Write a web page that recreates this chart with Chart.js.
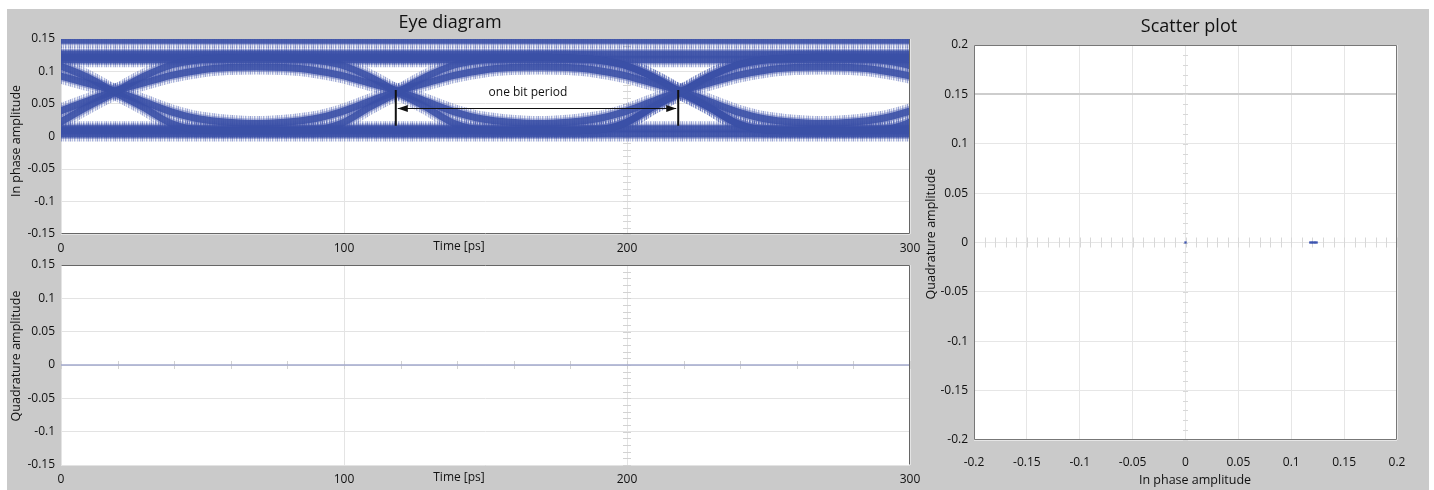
<!DOCTYPE html>
<html><head><meta charset="utf-8">
<script src="https://cdn.jsdelivr.net/npm/chart.js@4.4.0/dist/chart.umd.min.js"></script>
<style>
html,body{margin:0;padding:0;background:#fff;width:1434px;height:490px;overflow:hidden;position:relative}
#bg{position:absolute;left:7px;top:9px;width:1422px;height:481px;background:#cacaca}
.box{position:absolute}
canvas{display:block}
</style></head><body>
<div id="bg"></div>
<div class="box" style="left:7px;top:9px"><canvas id="eyeI" width="925" height="256"></canvas></div>
<div class="box" style="left:7px;top:249px"><canvas id="eyeQ" width="925" height="241"></canvas></div>
<div class="box" style="left:918px;top:9px"><canvas id="scat" width="511" height="481"></canvas></div>
<script>
// ---------------- DATA ----------------
// Eye diagram, in-phase traces, sampled every 10 ps (crossings near 19, 119, 219 ps)
const eyeTimes = [-1, 9, 19, 29, 39, 49, 59, 69, 79, 89, 99, 109, 119, 129, 139, 149, 159, 169, 179, 189, 199, 209, 219, 229, 239, 249, 259, 269, 279, 289, 299, 309];
const slowTraceA = [0.038, 0.054, 0.070, 0.082, 0.094, 0.102, 0.106, 0.107, 0.106, 0.102, 0.094, 0.082, 0.070, 0.054, 0.038, 0.027, 0.022, 0.020, 0.022, 0.027, 0.038, 0.054, 0.070, 0.082, 0.094, 0.102, 0.106, 0.107, 0.106, 0.102, 0.094, 0.082];
const slowTraceB = [0.094, 0.082, 0.070, 0.054, 0.038, 0.027, 0.022, 0.020, 0.022, 0.027, 0.038, 0.054, 0.070, 0.082, 0.094, 0.102, 0.106, 0.107, 0.106, 0.102, 0.094, 0.082, 0.070, 0.054, 0.038, 0.027, 0.022, 0.020, 0.022, 0.027, 0.038, 0.054];
const fastTraceA = [0.020, 0.045, 0.068, 0.092, 0.110, 0.118, 0.121, 0.122, 0.122, 0.122, 0.122, 0.122, 0.122, 0.122, 0.122, 0.122, 0.122, 0.122, 0.121, 0.118, 0.110, 0.092, 0.068, 0.045, 0.020, 0.010, 0.009, 0.009, 0.009, 0.009, 0.009, 0.009];
const fastTraceB = [0.110, 0.092, 0.068, 0.045, 0.020, 0.010, 0.009, 0.009, 0.009, 0.009, 0.009, 0.009, 0.009, 0.009, 0.009, 0.009, 0.009, 0.009, 0.009, 0.010, 0.020, 0.045, 0.068, 0.092, 0.110, 0.118, 0.121, 0.122, 0.122, 0.122, 0.122, 0.122];
const fastTraceC = [0.122, 0.122, 0.122, 0.122, 0.122, 0.122, 0.122, 0.122, 0.121, 0.118, 0.110, 0.092, 0.068, 0.045, 0.020, 0.010, 0.009, 0.009, 0.009, 0.010, 0.020, 0.045, 0.068, 0.092, 0.110, 0.118, 0.121, 0.122, 0.121, 0.118, 0.110, 0.092];
const fastTraceD = [0.009, 0.009, 0.009, 0.009, 0.009, 0.009, 0.009, 0.009, 0.009, 0.010, 0.020, 0.045, 0.068, 0.092, 0.110, 0.118, 0.121, 0.122, 0.121, 0.118, 0.110, 0.092, 0.068, 0.045, 0.020, 0.010, 0.009, 0.009, 0.009, 0.010, 0.020, 0.045];
// steady levels (flat bands)
const levelTimes = [-1, 309];
const levelTop   = [0.148, 0.148];
const levelHighA = [0.127, 0.127];
const levelHighB = [0.118, 0.118];
const levelLowA  = [0.012, 0.012];
const levelLowB  = [0.004, 0.004];

// Quadrature amplitude vs time (flat at zero)
const quadTimes  = [0, 50, 100, 150, 200, 250, 300];
const quadValues = [0, 0, 0, 0, 0, 0, 0];

// Scatter plot (constellation)
const scatterI = [0.000, 0.118, 0.1195, 0.121, 0.1225, 0.124];
const scatterQ = [0.000, 0.000, 0.000, 0.000, 0.000, 0.000];

// Tick values / labels
const timeTicks   = [0, 100, 200, 300];
const timeLabels  = ['0', '100', '200', '300'];
const ampTicks    = [-0.15, -0.1, -0.05, 0, 0.05, 0.1, 0.15];
const ampLabels   = ['-0.15', '-0.1', '-0.05', '0', '0.05', '0.1', '0.15'];
const scatTicks   = [-0.2, -0.15, -0.1, -0.05, 0, 0.05, 0.1, 0.15, 0.2];
const scatLabels  = ['-0.2', '-0.15', '-0.1', '-0.05', '0', '0.05', '0.1', '0.15', '0.2'];

// "one bit period" annotation (data coordinates)
const bitMarkTimes = [118.3, 218.1];
const bitMarkSpan  = [0.0166, 0.0715];
const bitArrowLevel = 0.0443;
const bitLabel = { text: 'one bit period', t: 165, v: 0.067 };

// ---------------- helpers ----------------
const FONT = '"Open Sans", "Noto Sans", sans-serif';
const pts = (ts, vs) => ts.map((t, i) => ({ x: t, y: vs[i] }));

function scaleCfg(axis, min, max, ticks, labels, size, pad, gridColor) {
  return {
    type: 'linear', min, max,
    afterBuildTicks: s => { s.ticks = ticks.map(v => ({ value: v })); },
    afterFit: s => {
      if (axis === 'y') s.width = size; else s.height = size;
      s.paddingTop = 0; s.paddingBottom = 0; s.paddingLeft = 0; s.paddingRight = 0;
    },
    ticks: { callback: (v, i) => labels[i], color: '#111', font: { family: FONT, size: 12 }, padding: pad, maxRotation: 0, autoSkip: false },
    grid: { color: gridColor || '#e3e3e3', drawTicks: false, lineWidth: 1 },
    border: { display: false }
  };
}

const plotBgPlugin = {
  id: 'plotBg',
  beforeDraw(chart) {
    const { ctx, chartArea: a } = chart;
    ctx.save(); ctx.fillStyle = '#ffffff';
    ctx.fillRect(a.left, a.top, a.right - a.left, a.bottom - a.top);
    ctx.restore();
  }
};

const textPlugin = {
  id: 'texts',
  afterDraw(chart, args, o) {
    const ctx = chart.ctx;
    (o.items || []).forEach(it => {
      ctx.save();
      ctx.font = it.font; ctx.fillStyle = '#111';
      ctx.textAlign = 'center'; ctx.textBaseline = 'middle';
      ctx.translate(it.x, it.y);
      if (it.rot) ctx.rotate(it.rot);
      ctx.fillText(it.text, 0, 0);
      ctx.restore();
    });
  }
};

const framePlugin = {
  id: 'frame',
  afterDatasetsDraw(chart, args, o) {
    const { ctx, chartArea: a } = chart;
    ctx.save(); ctx.strokeStyle = o.color || '#6a6a6a'; ctx.lineWidth = 1;
    const L = Math.round(a.left) + 0.5, R = Math.round(a.right) - 0.5, T = Math.round(a.top) + 0.5, B = Math.round(a.bottom) - 0.5;
    ctx.beginPath();
    (o.sides || []).forEach(s => {
      if (s === 'top') { ctx.moveTo(L, T); ctx.lineTo(R, T); }
      if (s === 'bottom') { ctx.moveTo(L, B); ctx.lineTo(R, B); }
      if (s === 'left') { ctx.moveTo(L, T); ctx.lineTo(L, B); }
      if (s === 'right') { ctx.moveTo(R, T); ctx.lineTo(R, B); }
    });
    ctx.stroke(); ctx.restore();
  }
};

const minorPlugin = {
  id: 'minor',
  beforeDatasetsDraw(chart, args, o) {
    const { ctx, scales: { x, y } } = chart;
    ctx.save(); ctx.strokeStyle = o.color || '#d4d4d4'; ctx.lineWidth = 1;
    ctx.beginPath();
    if (o.vAt !== undefined) {
      const px = x.getPixelForValue(o.vAt);
      const n = Math.round((y.max - y.min) / o.vStep);
      for (let i = 0; i <= n; i++) {
        const py = Math.round(y.getPixelForValue(y.min + i * o.vStep)) + 0.5;
        ctx.moveTo(px - o.vLen / 2, py); ctx.lineTo(px + o.vLen / 2, py);
      }
    }
    if (o.hAt !== undefined) {
      const py = y.getPixelForValue(o.hAt);
      const n = Math.round((x.max - x.min) / o.hStep);
      for (let i = 0; i <= n; i++) {
        const px = Math.round(x.getPixelForValue(x.min + i * o.hStep)) + 0.5;
        ctx.moveTo(px, py - o.hLen / 2); ctx.lineTo(px, py + o.hLen / 2);
      }
    }
    ctx.stroke(); ctx.restore();
  }
};

const bitPeriodPlugin = {
  id: 'bitPeriod',
  afterDatasetsDraw(chart) {
    const { ctx, scales: { x, y } } = chart;
    ctx.save();
    ctx.strokeStyle = '#111'; ctx.fillStyle = '#111';
    ctx.lineWidth = 2;
    const y0 = y.getPixelForValue(bitMarkSpan[0]), y1 = y.getPixelForValue(bitMarkSpan[1]);
    const xs = bitMarkTimes.map(t => x.getPixelForValue(t));
    ctx.beginPath();
    xs.forEach(px => { ctx.moveTo(px, y0); ctx.lineTo(px, y1); });
    ctx.stroke();
    const ay = Math.round(y.getPixelForValue(bitArrowLevel)) + 0.5;
    ctx.lineWidth = 1;
    ctx.beginPath(); ctx.moveTo(xs[0] + 2, ay); ctx.lineTo(xs[1] - 2, ay); ctx.stroke();
    const head = (tipX, dir) => {
      ctx.beginPath(); ctx.moveTo(tipX, ay); ctx.lineTo(tipX + dir * 10, ay - 3.5); ctx.lineTo(tipX + dir * 10, ay + 3.5); ctx.closePath(); ctx.fill();
    };
    head(xs[0] + 2, 1); head(xs[1] - 2, -1);
    ctx.font = '12px ' + FONT; ctx.textAlign = 'center'; ctx.textBaseline = 'middle';
    ctx.fillText(bitLabel.text, x.getPixelForValue(bitLabel.t), y.getPixelForValue(bitLabel.v));
    ctx.restore();
  }
};

// streaky stroke texture (style only) to imitate the noisy fringes of the traces
function streakPattern() {
  const c = document.createElement('canvas');
  c.width = 9; c.height = 1;
  const g = c.getContext('2d');
  const alphas = [0.55, 0.12, 0.38, 0.05, 0.48, 0.22, 0.08, 0.42, 0.18];
  alphas.forEach((a, i) => { g.fillStyle = 'rgba(70,90,175,' + a + ')'; g.fillRect(i, 0, 1, 1); });
  return g.createPattern(c, 'repeat');
}
const fringe = streakPattern();

// ---------------- Eye diagram (in phase) ----------------
const traceSets = [
  [eyeTimes, slowTraceA], [eyeTimes, slowTraceB],
  [eyeTimes, fastTraceA], [eyeTimes, fastTraceB], [eyeTimes, fastTraceC], [eyeTimes, fastTraceD],
  [levelTimes, levelTop], [levelTimes, levelHighA], [levelTimes, levelHighB],
  [levelTimes, levelLowA], [levelTimes, levelLowB]
];
const eyeDatasets = [];
traceSets.forEach(([ts, vs]) => {
  eyeDatasets.push({ data: pts(ts, vs), borderColor: fringe, borderWidth: 15, order: 3 });
  eyeDatasets.push({ data: pts(ts, vs), borderColor: 'rgba(88,104,182,0.45)', borderWidth: 10, order: 2 });
  eyeDatasets.push({ data: pts(ts, vs), borderColor: 'rgba(58,80,166,0.88)', borderWidth: 7, order: 1 });
});
eyeDatasets.forEach(d => Object.assign(d, { pointRadius: 0, cubicInterpolationMode: 'monotone', clip: 0, borderJoinStyle: 'round', fill: false }));

Chart.defaults.font.family = FONT;

new Chart(document.getElementById('eyeI'), {
  type: 'line',
  data: { datasets: eyeDatasets },
  options: {
    responsive: false, animation: false, events: [],
    layout: { padding: { top: 30, right: 22, left: 0, bottom: 0 } },
    scales: {
      x: scaleCfg('x', 0, 300, timeTicks, timeLabels, 31, 7, '#e4e4e4'),
      y: scaleCfg('y', -0.15, 0.15, ampTicks, ampLabels, 54, 6, '#e3e3e3')
    },
    plugins: {
      legend: { display: false }, tooltip: { enabled: false },
      texts: { items: [
        { text: 'Eye diagram', x: 443, y: 14, font: '18px ' + FONT },
        { text: 'In phase amplitude', x: 9, y: 132, rot: -Math.PI / 2, font: '12.5px ' + FONT },
        { text: 'Time [ps]', x: 452, y: 238, font: '12px ' + FONT }
      ] },
      frame: { sides: ['bottom', 'right'], color: '#666' },
      minor: { vAt: 200, vStep: 0.01, vLen: 8, color: '#d6d6d6' }
    }
  },
  plugins: [plotBgPlugin, minorPlugin, framePlugin, bitPeriodPlugin, textPlugin]
});

// ---------------- Eye diagram (quadrature) ----------------
new Chart(document.getElementById('eyeQ'), {
  type: 'line',
  data: { datasets: [{ data: pts(quadTimes, quadValues), borderColor: '#a2a9cc', borderWidth: 1.5, pointRadius: 0, clip: 0 }] },
  options: {
    responsive: false, animation: false, events: [],
    layout: { padding: { top: 16, right: 22, left: 0, bottom: 0 } },
    scales: {
      x: scaleCfg('x', 0, 300, timeTicks, timeLabels, 25, 7, '#e4e4e4'),
      y: scaleCfg('y', -0.15, 0.15, ampTicks, ampLabels, 54, 6, '#e3e3e3')
    },
    plugins: {
      legend: { display: false }, tooltip: { enabled: false },
      texts: { items: [
        { text: 'Quadrature amplitude', x: 9, y: 107, rot: -Math.PI / 2, font: '12.5px ' + FONT },
        { text: 'Time [ps]', x: 452, y: 229, font: '12px ' + FONT }
      ] },
      frame: { sides: ['top', 'right'], color: '#666' },
      minor: { vAt: 200, vStep: 0.01, vLen: 8, hAt: 0, hStep: 20, hLen: 8, color: '#d2d2d2' }
    }
  },
  plugins: [plotBgPlugin, minorPlugin, framePlugin, textPlugin]
});

// ---------------- Scatter plot ----------------
const scatY = scaleCfg('y', -0.2, 0.2, scatTicks, scatLabels, 56, 6);
scatY.grid.color = c => (c.tick && Math.abs(c.tick.value - 0.15) < 1e-9) ? '#cdcdcd' : '#e6e6e6';
scatY.grid.lineWidth = c => (c.tick && Math.abs(c.tick.value - 0.15) < 1e-9) ? 2 : 1;
new Chart(document.getElementById('scat'), {
  type: 'scatter',
  data: { datasets: [{ data: pts(scatterI, scatterQ), backgroundColor: '#3d55b0', borderWidth: 0, pointStyle: 'rect', pointRadius: 1.6 }] },
  options: {
    responsive: false, animation: false, events: [],
    layout: { padding: { top: 36, right: 32, left: 0, bottom: 0 } },
    scales: {
      x: scaleCfg('x', -0.2, 0.2, scatTicks, scatLabels, 50, 15, '#e6e6e6'),
      y: scatY
    },
    plugins: {
      legend: { display: false }, tooltip: { enabled: false },
      texts: { items: [
        { text: 'Scatter plot', x: 271, y: 18, font: '18px ' + FONT },
        { text: 'Quadrature amplitude', x: 13, y: 225, rot: -Math.PI / 2, font: '12.5px ' + FONT },
        { text: 'In phase amplitude', x: 277, y: 471, font: '12.5px ' + FONT }
      ] },
      frame: { sides: ['top', 'right', 'bottom', 'left'], color: '#777' },
      minor: { vAt: 0, vStep: 0.01, vLen: 5, hAt: 0, hStep: 0.01, hLen: 10, color: '#d8d8d8' }
    }
  },
  plugins: [plotBgPlugin, minorPlugin, framePlugin, textPlugin]
});
</script>
</body></html>
